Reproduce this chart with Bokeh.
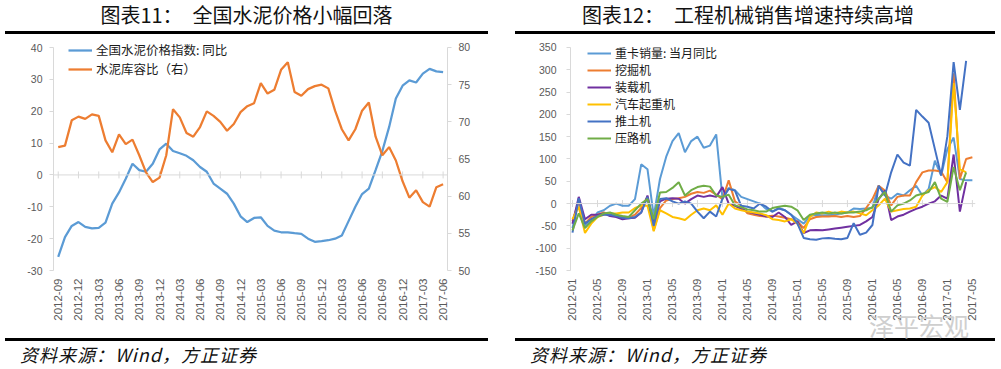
import math
import pandas as pd
from bokeh.plotting import figure
from bokeh.models import (Range1d, LinearAxis, FixedTicker, Span, Legend, LegendItem,
                          Div, Spacer)
from bokeh.layouts import row, column
from bokeh.embed import file_html
from bokeh.resources import INLINE

# ---------------- data: left chart (cement) ----------------
cement_months = pd.date_range("2012-09-01", periods=58, freq="MS").strftime("%Y-%m").tolist()
cement_tick_labels = ["2012-09", "2012-12", "2013-03", "2013-06", "2013-09", "2013-12",
                      "2014-03", "2014-06", "2014-09", "2014-12", "2015-03", "2015-06",
                      "2015-09", "2015-12", "2016-03", "2016-06", "2016-09", "2016-12",
                      "2017-03", "2017-06"]
cement_price_yoy = [-25.7, -19.5, -16.0, -14.8, -16.3, -16.8, -16.6, -15.0, -9.0, -5.5,
                    -1.2, 3.5, 1.5, 1.0, 3.5, 8.0, 9.8, 7.5, 6.8, 6.0,
                    4.6, 2.5, 1.0, -2.7, -4.3, -5.9, -9.0, -13.0, -14.8, -13.5,
                    -13.3, -16.0, -17.5, -18.0, -18.0, -18.3, -18.5, -20.0, -21.0, -20.8,
                    -20.5, -20.0, -19.0, -14.5, -10.0, -6.0, -4.3, 1.5, 7.5, 15.0,
                    24.0, 28.0, 29.7, 29.0, 31.8, 33.3, 32.5, 32.3]
cement_storage_ratio = [66.6, 66.8, 70.2, 70.7, 70.4, 71.0, 70.8, 67.5, 65.9, 68.3,
                        67.0, 67.6, 65.5, 63.2, 61.9, 62.5, 65.5, 71.7, 70.6, 68.5,
                        68.0, 69.3, 71.4, 70.8, 70.0, 68.8, 69.7, 71.3, 72.1, 72.5,
                        75.2, 73.8, 74.3, 77.0, 78.0, 74.0, 73.5, 74.4, 74.8, 75.0,
                        74.5, 71.5, 69.0, 67.5, 69.0, 71.5, 72.6, 68.0, 65.5, 66.6,
                        64.8, 62.0, 59.8, 60.8, 59.2, 58.6, 61.2, 61.6]
cement_left_ticks = [-30, -20, -10, 0, 10, 20, 30, 40]
cement_right_ticks = [50, 55, 60, 65, 70, 75, 80]

# ---------------- data: right chart (machinery) ----------------
machinery_months = pd.date_range("2012-01-01", periods=65, freq="MS").strftime("%Y-%m").tolist()
machinery_tick_labels = ["2012-01", "2012-05", "2012-09", "2013-01", "2013-05", "2013-09",
                         "2014-01", "2014-05", "2014-09", "2015-01", "2015-05", "2015-09",
                         "2016-01", "2016-05", "2016-09", "2017-01", "2017-05"]
heavy_truck = [-55, 10, -50, -40, -20, -15, -5, 0, -5, -5,
               10, 88, 77, -28, 55, 105, 140, 158, 115, 140,
               150, 125, 130, 155, 12, 35, 30, 15, 10, 5,
               0, -12, -18, -10, -15, -25, -35, -45, -28, -25,
               -26, -26, -25, -22, -20, -11, -12, -11, -10, 40,
               18, 11, 22, 18, 30, 40, 18, 33, 96, 63,
               122, 148, 55, 52, 52]
excavator = [-40, 5, -45, -30, -25, -20, -25, -28, -30, -32,
             -25, -10, 15, -60, -10, 7, 10, 12, 15, 22,
             26, 24, 29, 20, 10, 52, 5, -5, -22, -25,
             -28, -29, -27, -29, -32, -35, -40, -55, -35, -30,
             -29, -29, -28, -30, -28, -30, -28, -10, 10, 40,
             29, -4, 15, 18, 18, 48, 70, 74, 74, 72,
             48, 292, 55, 100, 104]
loader = [-45, 15, -35, -25, -25, -22, -28, -30, -35, -33,
          -32, -20, 18, -45, 5, 11, 12, 11, 0, 10,
          18, 15, 18, 15, 37, 0, -5, -12, -18, -22,
          -25, -29, -30, -20, -30, -48, -40, -66, -60, -59,
          -60, -58, -56, -54, -52, -50, -48, -40, -30, 10,
          29, -37, -29, -25, -18, -12, -7, 0, 5, 18,
          11, 110, -18, 48]
truck_crane = [-35, -7, -66, -45, -30, -25, -22, -22, -20, -20,
               -10, -5, -5, -62, -15, -22, -30, -33, -37, -25,
               -15, -11, -15, -4, -25, 0, -11, -15, -18, -20,
               -22, -26, -35, -37, -40, -35, -45, -66, -30, -20,
               -22, -18, -22, -18, -20, -18, -22, -26, -15, -4,
               11, -18, -15, -12, -11, -7, 18, 30, 37, 26,
               48, 270, 77, 70]
bulldozer = [-65, 12, -45, -35, -28, -25, -25, -28, -32, -33,
             -30, -20, 15, -50, 10, 12, 5, 0, 5, 0,
             -18, -33, -18, -29, 11, 33, 29, -5, -7, -11,
             0, -7, -18, -11, -15, -25, -45, -77, -80, -81,
             -78, -77, -79, -80, -77, -44, -70, -65, -48, 40,
             18, 70, 110, 92, 85, 210, 195, 181, 122, 63,
             151, 317, 210, 320]
road_roller = [-60, -22, -55, -40, -30, -22, -20, -25, -28, -30,
               -15, 0, 10, -35, 25, 26, 35, 48, 18, 30,
               37, 40, 38, 18, 15, 20, -4, -8, -13, -15,
               -18, -18, -10, -7, -5, -7, -15, -37, -25, -22,
               -20, -22, -20, -22, -20, -20, -18, -15, -8, 11,
               26, -18, -4, 0, 7, 18, 22, 26, 48, 11,
               4, 82, 30, 70]
machinery_y_ticks = [-150, -100, -50, 0, 50, 100, 150, 200, 250, 300, 350]

machinery_names = ["重卡销量: 当月同比", "挖掘机", "装载机", "汽车起重机", "推土机", "压路机"]
machinery_series = [heavy_truck, excavator, loader, truck_crane, bulldozer, road_roller]
machinery_colors = ["#5B9BD5", "#ED7D31", "#7030A0", "#FFC000", "#4472C4", "#70AD47"]

AXIS_GRAY = "#d9d9d9"
LABEL_GRAY = "#595959"
CJK = "Noto Sans CJK SC"


def style_y_axis(ax, ticks, standoff):
    ax.ticker = FixedTicker(ticks=ticks)
    ax.bounds = (min(ticks), max(ticks))
    ax.major_label_overrides = {t: str(t) for t in ticks}
    ax.axis_line_color = AXIS_GRAY
    ax.major_tick_line_color = AXIS_GRAY
    ax.major_tick_out = 4
    ax.major_tick_in = 0
    ax.minor_tick_line_color = None
    ax.major_label_text_color = LABEL_GRAY
    ax.major_label_text_font = "Liberation Sans"
    ax.major_label_text_font_size = "10.5px"
    ax.major_label_standoff = standoff


def style_x_axis(ax, positions, labels):
    ax.ticker = FixedTicker(ticks=positions)
    ax.major_label_overrides = {p_: l for p_, l in zip(positions, labels)}
    ax.major_label_orientation = math.pi / 2
    ax.axis_line_color = None
    ax.major_tick_line_color = None
    ax.major_tick_out = 0
    ax.major_tick_in = 0
    ax.minor_tick_line_color = None
    ax.major_label_text_color = LABEL_GRAY
    ax.major_label_text_font = "Liberation Sans"
    ax.major_label_text_font_size = "11.5px"
    ax.major_label_standoff = 8


def make_fig(width, height, xr, yr, mbl, mbr, mbt, mbb):
    p = figure(width=width, height=height, x_range=Range1d(*xr), y_range=Range1d(*yr),
               output_backend="svg", toolbar_location=None,
               min_border_left=mbl, min_border_right=mbr,
               min_border_top=mbt, min_border_bottom=mbb)
    p.grid.visible = False
    p.outline_line_color = None
    p.background_fill_color = "white"
    p.border_fill_color = "white"
    return p


def style_legend(leg, lh, fs):
    leg.border_line_color = None
    leg.background_fill_alpha = 0
    leg.padding = 0
    leg.spacing = 0
    leg.margin = 0
    leg.glyph_width = 24
    leg.glyph_height = lh
    leg.label_height = lh
    leg.label_standoff = 4
    leg.label_text_font = CJK
    leg.label_text_font_size = fs
    leg.label_text_color = "#1a1a1a"
    leg.label_text_baseline = "middle"


# ---------------- left figure ----------------
# frame from y=40 to y=270; the visible axis spans -30..40 (bounds)
p1 = make_fig(505, 304, (-0.7, 57.65), (-30, 42.2), 53, 58, 6, 68)
p1.extra_y_ranges = {"ratio": Range1d(50, 80.94)}
style_y_axis(p1.yaxis[0], cement_left_ticks, 7)
right_ax = LinearAxis(y_range_name="ratio")
style_y_axis(right_ax, cement_right_ticks, 7)
p1.add_layout(right_ax, "right")
c_tick_pos = [cement_months.index(l) for l in cement_tick_labels]
style_x_axis(p1.xaxis[0], c_tick_pos, cement_tick_labels)
p1.add_layout(Span(location=0, dimension="width", line_color=AXIS_GRAY, line_width=1))
p1.scatter(c_tick_pos, [0] * len(c_tick_pos), marker="dash", angle=math.pi / 2, size=7,
           line_color=AXIS_GRAY, line_width=1)

r_price = p1.line(list(range(len(cement_price_yoy))), cement_price_yoy,
                  line_color="#5B9BD5", line_width=2.25)
r_ratio = p1.line(list(range(len(cement_storage_ratio))), cement_storage_ratio,
                  line_color="#ED7D31", line_width=2.25, y_range_name="ratio")

leg1 = Legend(items=[LegendItem(label="全国水泥价格指数: 同比", renderers=[r_price]),
                     LegendItem(label="水泥库容比（右）", renderers=[r_ratio])],
              location=(15, 192))
style_legend(leg1, 16, "12.5px")
p1.add_layout(leg1)

# ---------------- right figure ----------------
p2 = make_fig(496, 304, (-0.32, 64.5), (-150, 365.5), 65, 26, 6, 65)
style_y_axis(p2.yaxis[0], machinery_y_ticks, 10)
m_tick_pos = [machinery_months.index(l) for l in machinery_tick_labels]
style_x_axis(p2.xaxis[0], m_tick_pos, machinery_tick_labels)
p2.add_layout(Span(location=0, dimension="width", line_color=AXIS_GRAY, line_width=1))
p2.scatter(m_tick_pos, [0] * len(m_tick_pos), marker="dash", angle=math.pi / 2, size=7,
           line_color=AXIS_GRAY, line_width=1)

items2 = []
for name, ser, col in zip(machinery_names, machinery_series, machinery_colors):
    r = p2.line(list(range(len(ser))), ser, line_color=col, line_width=2)
    items2.append(LegendItem(label=name, renderers=[r]))
leg2 = Legend(items=items2, location=(17, 124))
style_legend(leg2, 16, "12px")
p2.add_layout(leg2)

# ---------------- titles & footers ----------------
title_style = {"font-family": CJK, "font-size": "20px", "text-align": "center",
               "line-height": "30px", "color": "#111111",
               "border-bottom": "3px solid #000000", "box-sizing": "border-box"}
foot_style = {"font-family": CJK, "font-size": "18px", "font-style": "italic",
              "letter-spacing": "1px", "line-height": "27px", "color": "#111111",
              "padding-left": "15px", "border-top": "3px solid #000000",
              "box-sizing": "border-box", "white-space": "nowrap", "overflow": "visible"}

watermark = ('<span style="position:relative; left:102px; top:-26px; font-style:normal; '
             'font-size:25px; line-height:0; letter-spacing:0; color:#cfcfcf; '
             'z-index:10;">泽平宏观</span>')

t1 = Div(text="图表11：　全国水泥价格小幅回落", width=483, height=34, margin=0, styles=title_style)
t2 = Div(text="图表12：　工程机械销售增速持续高增", width=480, height=34, margin=0,
         styles=dict(title_style, **{"padding-right": "14px"}))
f1 = Div(text="资料来源：Wind，方正证券", width=483, height=31, margin=0, styles=foot_style)
f2 = Div(text="资料来源：Wind，方正证券" + watermark, width=480, height=31, margin=0,
         styles=foot_style)

layout = column(
    row(Spacer(width=5, height=34), t1, Spacer(width=27, height=34), t2),
    row(p1, p2),
    row(Spacer(width=5, height=31), f1, Spacer(width=27, height=31), f2),
)

open("out.html", "w").write(file_html(layout, INLINE))
